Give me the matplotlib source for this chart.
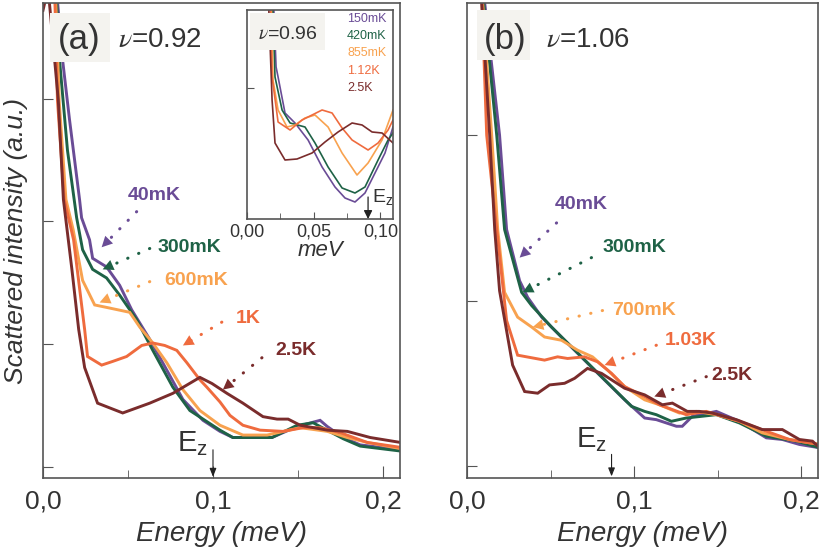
import matplotlib
matplotlib.use('Agg')
import matplotlib.pyplot as plt
from matplotlib.patches import Rectangle

plt.rcParams['font.family'] = ['Liberation Sans', 'DejaVu Sans']
plt.rcParams['mathtext.fontset'] = 'stix'

# colours for the five temperatures (coldest -> hottest)
colors = ['#6a4c96', '#1e6246', '#f8a24f', '#ef6b3e', '#7a2c2c']

# ---- panel (a), nu = 0.92 : energy (meV), intensity (a.u.)
a_labels = ['40mK', '300mK', '600mK', '1K', '2.5K']
a_x = [
    [0.0085, 0.0115, 0.0156, 0.0215, 0.0227, 0.0274, 0.0292, 0.0374, 0.0451, 0.0522, 0.0628, 0.0728, 0.0823,
     0.0941, 0.1041, 0.1117, 0.1347, 0.1495, 0.1630, 0.1672, 0.1766, 0.1866, 0.2102],
    [0.0080, 0.0097, 0.0144, 0.0198, 0.0233, 0.0292, 0.0374, 0.0451, 0.0551, 0.0646, 0.0764, 0.0864, 0.1041,
     0.1117, 0.1347, 0.1495, 0.1589, 0.1766, 0.1866, 0.2102],
    [0.0075, 0.0095, 0.0135, 0.0178, 0.0233, 0.0304, 0.0374, 0.0510, 0.0569, 0.0646, 0.0728, 0.0823, 0.0923,
     0.1041, 0.1176, 0.1318, 0.1513, 0.1672, 0.1790, 0.1907, 0.2102],
    [0.0070, 0.0085, 0.0125, 0.0180, 0.0245, 0.0262, 0.0345, 0.0410, 0.0492, 0.0581, 0.0646, 0.0716, 0.0787,
     0.0846, 0.0923, 0.0964, 0.1041, 0.1100, 0.1176, 0.1277, 0.1412, 0.1530, 0.1630, 0.1748, 0.1907, 0.2102],
    [0.0000, 0.0030, 0.0090, 0.0120, 0.0170, 0.0210, 0.0245, 0.0321, 0.0469, 0.0628, 0.0764, 0.0923, 0.0994,
     0.1082, 0.1176, 0.1294, 0.1377, 0.1442, 0.1513, 0.1672, 0.1790, 0.1925, 0.2102],
]
a_y = [
    [3.80, 3.32, 2.83, 2.18, 2.03, 1.85, 1.70, 1.63, 1.48, 1.28, 1.04, 0.79, 0.55,
     0.38, 0.29, 0.24, 0.24, 0.33, 0.38, 0.33, 0.24, 0.18, 0.14],
    [3.80, 3.32, 2.58, 2.03, 1.77, 1.61, 1.54, 1.40, 1.20, 0.95, 0.65, 0.46, 0.30,
     0.24, 0.24, 0.34, 0.36, 0.23, 0.17, 0.13],
    [3.80, 2.99, 2.18, 1.93, 1.52, 1.32, 1.30, 1.26, 1.14, 1.01, 0.85, 0.63, 0.46,
     0.34, 0.26, 0.26, 0.32, 0.29, 0.24, 0.20, 0.15],
    [3.80, 2.99, 2.18, 1.85, 1.12, 0.90, 0.83, 0.86, 0.90, 0.99, 1.01, 0.99, 0.95,
     0.85, 0.71, 0.65, 0.53, 0.42, 0.34, 0.30, 0.29, 0.32, 0.32, 0.28, 0.20, 0.16],
    [3.72, 3.90, 2.99, 2.18, 1.61, 1.12, 0.81, 0.52, 0.44, 0.52, 0.60, 0.73, 0.68,
     0.60, 0.52, 0.41, 0.39, 0.39, 0.34, 0.30, 0.29, 0.24, 0.20],
]

# ---- panel (b), nu = 1.06
b_labels = ['40mK', '300mK', '700mK', '1.03K', '2.5K']
b_x = [
    [0.0106, 0.0195, 0.0237, 0.0315, 0.0363, 0.0447, 0.0584, 0.0703, 0.0823, 0.0943, 0.1063, 0.1133, 0.1253,
     0.1288, 0.1348, 0.1492, 0.1630, 0.1791, 0.1887, 0.1989, 0.2109],
    [0.0100, 0.0178, 0.0225, 0.0327, 0.0387, 0.0506, 0.0626, 0.0745, 0.0865, 0.0985, 0.1063, 0.1133, 0.1223,
     0.1312, 0.1492, 0.1630, 0.1791, 0.1971, 0.2109],
    [0.0094, 0.0148, 0.0184, 0.0225, 0.0303, 0.0387, 0.0464, 0.0566, 0.0662, 0.0751, 0.0841, 0.0943, 0.1063,
     0.1151, 0.1271, 0.1372, 0.1492, 0.1630, 0.1767, 0.1929, 0.2109],
    [0.0090, 0.0118, 0.0178, 0.0237, 0.0303, 0.0464, 0.0542, 0.0602, 0.0703, 0.0781, 0.0865, 0.0943, 0.1063,
     0.1151, 0.1312, 0.1432, 0.1630, 0.1791, 0.1929, 0.2109],
    [0.0088, 0.0136, 0.0166, 0.0195, 0.0273, 0.0345, 0.0423, 0.0494, 0.0584, 0.0644, 0.0721, 0.0805, 0.0943,
     0.1063, 0.1169, 0.1229, 0.1318, 0.1390, 0.1468, 0.1612, 0.1767, 0.1887, 0.1989, 0.2067, 0.2109],
]
b_y = [
    [2.80, 2.00, 1.43, 1.12, 1.02, 0.90, 0.76, 0.64, 0.52, 0.40, 0.29, 0.28, 0.24,
     0.24, 0.30, 0.33, 0.27, 0.17, 0.16, 0.13, 0.11],
    [2.80, 2.00, 1.43, 1.05, 0.97, 0.84, 0.72, 0.60, 0.48, 0.36, 0.33, 0.31, 0.27,
     0.29, 0.31, 0.26, 0.18, 0.15, 0.11],
    [2.80, 2.00, 1.43, 1.05, 0.90, 0.84, 0.78, 0.76, 0.70, 0.66, 0.58, 0.48, 0.40,
     0.37, 0.32, 0.33, 0.31, 0.27, 0.20, 0.16, 0.13],
    [2.80, 2.00, 1.43, 0.88, 0.67, 0.64, 0.66, 0.65, 0.66, 0.63, 0.56, 0.48, 0.42,
     0.37, 0.31, 0.33, 0.27, 0.21, 0.16, 0.13],
    [2.80, 2.00, 1.43, 1.06, 0.61, 0.45, 0.44, 0.49, 0.50, 0.53, 0.59, 0.56, 0.47,
     0.43, 0.37, 0.38, 0.33, 0.33, 0.32, 0.28, 0.22, 0.22, 0.16, 0.15, 0.11],
]

# ---- inset, nu = 0.96
i_labels = ['150mK', '420mK', '855mK', '1.12K', '2.5K']
i_x = [
    [0.0195, 0.0218, 0.0233, 0.0285, 0.0360, 0.0458, 0.0563, 0.0660, 0.0735, 0.0810, 0.0885, 0.0960, 0.1035, 0.1095],
    [0.0188, 0.0210, 0.0263, 0.0323, 0.0435, 0.0510, 0.0608, 0.0713, 0.0810, 0.0885, 0.0983, 0.1058, 0.1095],
    [0.0180, 0.0195, 0.0233, 0.0300, 0.0360, 0.0435, 0.0510, 0.0608, 0.0713, 0.0825, 0.0908, 0.1013, 0.1095],
    [0.0173, 0.0188, 0.0233, 0.0323, 0.0413, 0.0563, 0.0638, 0.0713, 0.0788, 0.0908, 0.0983, 0.1058, 0.1095],
    [0.0158, 0.0188, 0.0210, 0.0285, 0.0375, 0.0488, 0.0585, 0.0683, 0.0788, 0.0863, 0.0938, 0.1013, 0.1095],
]
i_y = [
    [2.30, 1.52, 1.42, 1.06, 0.96, 0.79, 0.52, 0.32, 0.21, 0.17, 0.26, 0.46, 0.66, 0.92],
    [2.30, 1.42, 1.09, 0.96, 0.92, 0.76, 0.52, 0.31, 0.26, 0.32, 0.59, 0.79, 0.86],
    [2.30, 1.39, 1.09, 0.92, 0.94, 1.01, 1.04, 0.92, 0.66, 0.44, 0.56, 0.79, 1.09],
    [2.30, 1.42, 0.97, 0.89, 0.99, 1.09, 1.06, 0.91, 0.79, 0.69, 0.76, 0.89, 0.99],
    [2.30, 1.19, 0.76, 0.59, 0.60, 0.66, 0.77, 0.87, 0.96, 0.94, 0.87, 0.86, 0.76],
]

# annotation positions: (label xy, arrow tail, arrow head)
a_notes = [((0.0657, 2.21), (0.0551, 2.08), (0.0345, 1.79)),
           ((0.0864, 1.79), (0.0628, 1.78), (0.0351, 1.61)),
           ((0.0900, 1.52), (0.0628, 1.51), (0.0333, 1.34)),
           ((0.1206, 1.21), (0.1052, 1.18), (0.0823, 0.99)),
           ((0.1489, 0.95), (0.1288, 0.89), (0.1058, 0.63))]
b_notes = [((0.0685, 1.58), (0.0536, 1.47), (0.0315, 1.26)),
           ((0.1002, 1.32), (0.0745, 1.26), (0.0333, 1.05)),
           ((0.1061, 0.94), (0.0811, 0.94), (0.0393, 0.84)),
           ((0.1338, 0.76), (0.1133, 0.73), (0.0823, 0.61)),
           ((0.1588, 0.55), (0.1432, 0.54), (0.1121, 0.42))]

ez_a = 0.1
ez_b = 0.0865
ez_inset = 0.0908

frame = '#555555'
txt = '#333333'
boxc = '#f4f3ef'


def style_axes(ax, fs):
    for s in ax.spines.values():
        s.set_color(frame)
        s.set_linewidth(1.2)
    ax.tick_params(which='both', direction='in', color=frame, labelcolor=txt, labelsize=fs, top=False, right=False)


def dotted_arrow(ax, tail, head, c):
    ax.annotate('', xy=head, xytext=tail,
                arrowprops=dict(arrowstyle='-', color=c, lw=2.2, linestyle=(0, (0.1, 3.8)),
                                capstyle='round', shrinkA=0, shrinkB=5))
    ax.annotate('', xy=head, xytext=tail,
                arrowprops=dict(arrowstyle='-|>,head_length=0.55,head_width=0.28', color=c, lw=0,
                                shrinkA=0, shrinkB=0, mutation_scale=14))


def main_panel(ax, xs, ys, labels, notes, ylim, yticks, ez, ez_y, ez_txt):
    for x, y, c in zip(xs, ys, colors):
        ax.plot(x, y, color=c, lw=2.1, zorder=2, solid_joinstyle='miter')
    ax.set_xlim(0, 0.21)
    ax.set_ylim(*ylim)
    ax.set_xticks([0, 0.1, 0.2])
    ax.set_xticklabels(['0,0', '0,1', '0,2'])
    ax.set_xticks([0.05, 0.15], minor=True)
    ax.set_yticks(yticks)
    ax.set_yticklabels([])
    style_axes(ax, 19)
    ax.tick_params(axis='x', which='major', length=9, pad=8)
    ax.tick_params(axis='x', which='minor', length=6)
    ax.tick_params(axis='y', length=7)
    for (lab, c, (lxy, tail, head)) in zip(labels, colors, notes):
        ax.text(lxy[0], lxy[1], lab, color=c, fontsize=14, fontweight='bold', ha='center', va='center', zorder=4)
        dotted_arrow(ax, tail, head, c)
    ax.annotate('', xy=(ez, ylim[0] + 0.01), xytext=(ez, ez_y),
                arrowprops=dict(arrowstyle='-|>,head_length=0.5,head_width=0.2', color='#222222', lw=0.8,
                                shrinkA=0, shrinkB=0, mutation_scale=10))
    ax.text(ez_txt[0], ez_txt[1], r'$\mathregular{E_z}$', fontsize=21, color=txt, ha='center', va='bottom')
    ax.set_xlabel('Energy (meV)', fontsize=20, style='italic', color=txt, labelpad=6)
    return ax


fig = plt.figure(figsize=(8.22, 5.55), dpi=100)
ax_a = fig.add_axes([0.0523, 0.1387, 0.4343, 0.8559])
ax_b = fig.add_axes([0.5681, 0.1387, 0.4270, 0.8559])

main_panel(ax_a, a_x, a_y, a_labels, a_notes, (-0.09, 3.78), [0, 1, 2, 3], ez_a, 0.14, (0.088, 0.07))
main_panel(ax_b, b_x, b_y, b_labels, b_notes, (-0.073, 2.80), [0, 1, 2], ez_b, 0.07, (0.0745, 0.07))
ax_a.set_ylabel('Scattered intensity (a.u.)', fontsize=19, style='italic', color=txt, labelpad=7)

# title boxes
ax_a.add_patch(Rectangle((0.0196, 0.876), 0.168, 0.103, transform=ax_a.transAxes, fc=boxc, ec='none', zorder=3))
ax_a.text(0.101, 0.924, '(a)', transform=ax_a.transAxes, fontsize=25, color=txt, ha='center', va='center', zorder=4)
ax_a.text(0.328, 0.922, r'$\nu$=0.92', transform=ax_a.transAxes, fontsize=20, color=txt, ha='center', va='center', zorder=4)
ax_b.add_patch(Rectangle((0.0285, 0.880), 0.151, 0.105, transform=ax_b.transAxes, fc=boxc, ec='none', zorder=3))
ax_b.text(0.108, 0.924, '(b)', transform=ax_b.transAxes, fontsize=25, color=txt, ha='center', va='center', zorder=4)
ax_b.text(0.345, 0.922, r'$\nu$=1.06', transform=ax_b.transAxes, fontsize=20, color=txt, ha='center', va='center', zorder=4)

# inset
ax_i = fig.add_axes([0.3005, 0.6054, 0.1776, 0.3766])
for x, y, c in zip(i_x, i_y, colors):
    ax_i.plot(x, y, color=c, lw=1.2, zorder=2)
ax_i.set_xlim(0, 0.1095)
ax_i.set_ylim(0, 2.09)
ax_i.set_xticks([0, 0.05, 0.10])
ax_i.set_xticklabels(['0,00', '0,05', '0,10'])
ax_i.set_xticks([0.025, 0.075], minor=True)
ax_i.set_yticks([1.31])
ax_i.set_yticklabels([])
style_axes(ax_i, 13)
ax_i.tick_params(axis='x', which='major', length=5, pad=3)
ax_i.tick_params(axis='x', which='minor', length=4)
ax_i.tick_params(axis='y', length=5)
ax_i.set_xlabel('meV', fontsize=16, style='italic', color=txt, labelpad=0)
ax_i.add_patch(Rectangle((0.02, 0.809), 0.514, 0.177, transform=ax_i.transAxes, fc=boxc, ec='none', zorder=3))
ax_i.text(0.281, 0.885, r'$\nu$=0.96', transform=ax_i.transAxes, fontsize=14, color=txt, ha='center', va='center', zorder=4)
for k, (lab, c) in enumerate(zip(i_labels, colors)):
    ax_i.text(0.685, 0.957 - 0.0825 * k, lab, transform=ax_i.transAxes, fontsize=9, color=c, ha='left', va='center')
ax_i.annotate('', xy=(ez_inset, 0.0), xytext=(ez_inset, 0.22),
              arrowprops=dict(arrowstyle='-|>,head_length=0.5,head_width=0.25', color='#222222', lw=0.9,
                              shrinkA=0, shrinkB=0, mutation_scale=10))
ax_i.text(0.0935, 0.12, r'$\mathregular{E_z}$', fontsize=14, color=txt, ha='left', va='bottom')

fig.savefig('out.png', dpi=100)
